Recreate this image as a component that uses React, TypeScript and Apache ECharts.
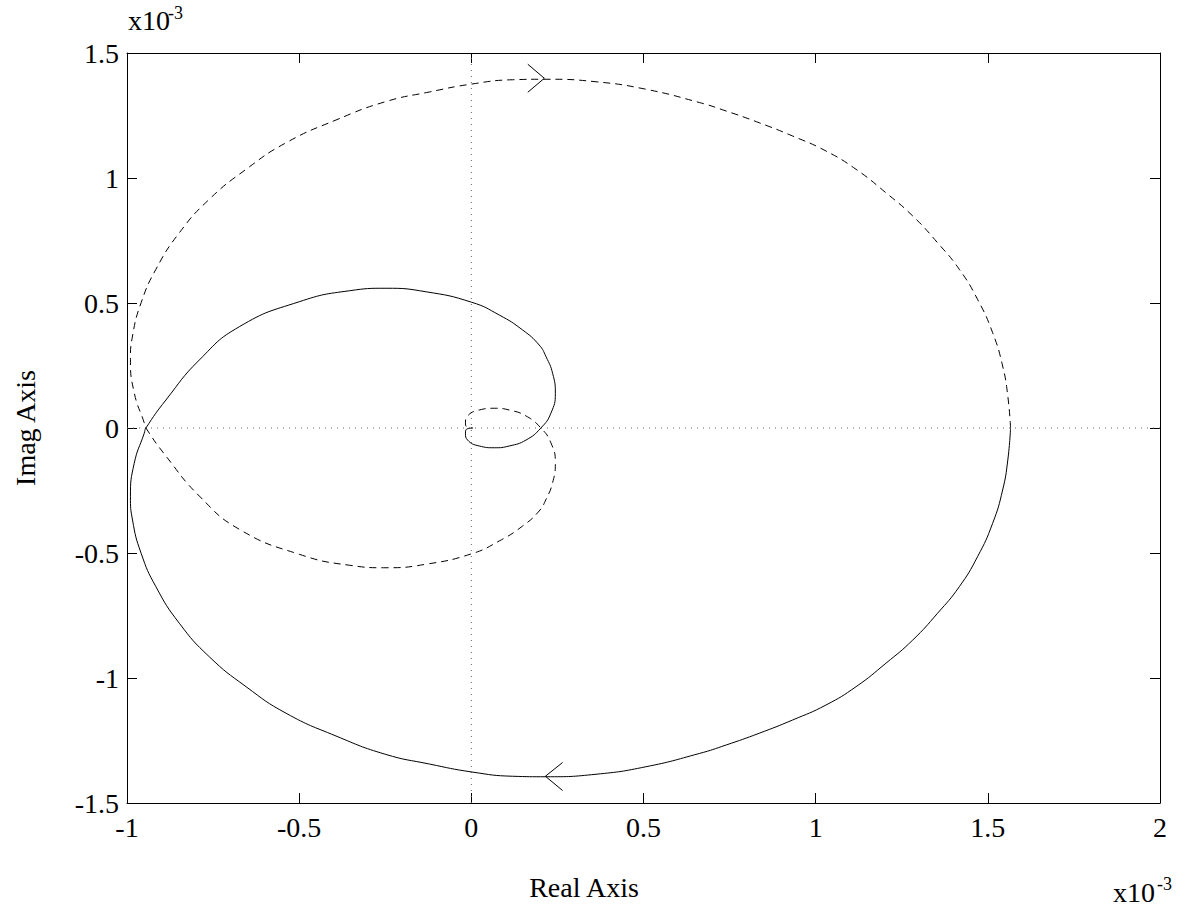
import React, { useEffect, useRef } from "react";
import * as echarts from "echarts";

// Values in units of 1e-3
const xTicks = [-1, -0.5, 0, 0.5, 1, 1.5, 2];
const yTicks = [-1.5, -1, -0.5, 0, 0.5, 1, 1.5];

// Positive-frequency branch (solid)
const solidReal = [1.566, 1.558, 1.543, 1.514, 1.47, 1.417, 1.354, 1.282, 1.204, 1.117, 1.03, 0.933, 0.836, 0.74, 0.662, 0.507, 0.362, 0.217, 0.12, 0.002, -0.122, -0.25, -0.393, -0.538, -0.654, -0.761, -0.848, -0.916, -0.959, -0.984, -0.99, -0.979, -0.95, -0.945, -0.887, -0.79, -0.674, -0.5, -0.354, -0.248, -0.132, 0.001, 0.081, 0.149, 0.197, 0.217, 0.236, 0.244, 0.231, 0.202, 0.159, 0.11, 0.067, 0.023, -0.011, -0.017, -0.014, 0.004];
const solidImag = [0, -0.128, -0.248, -0.381, -0.515, -0.635, -0.741, -0.848, -0.941, -1.035, -1.108, -1.168, -1.221, -1.268, -1.302, -1.355, -1.385, -1.395, -1.393, -1.376, -1.344, -1.305, -1.232, -1.141, -1.035, -0.915, -0.781, -0.635, -0.501, -0.368, -0.275, -0.141, -0.021, 0, 0.112, 0.272, 0.405, 0.505, 0.549, 0.559, 0.545, 0.503, 0.452, 0.392, 0.332, 0.285, 0.219, 0.139, 0.059, 0, -0.048, -0.072, -0.079, -0.072, -0.048, -0.021, -0.005, 0];

// Negative-frequency branch (dashed)
const dashedReal = [1.566, 1.558, 1.543, 1.514, 1.47, 1.417, 1.354, 1.282, 1.204, 1.117, 1.03, 0.933, 0.836, 0.74, 0.662, 0.507, 0.362, 0.217, 0.12, 0.002, -0.122, -0.25, -0.393, -0.538, -0.654, -0.761, -0.848, -0.916, -0.959, -0.984, -0.99, -0.979, -0.95, -0.945, -0.887, -0.79, -0.674, -0.5, -0.354, -0.248, -0.132, 0.001, 0.081, 0.149, 0.197, 0.217, 0.236, 0.244, 0.231, 0.202, 0.159, 0.11, 0.067, 0.023, -0.011, -0.017, -0.014, 0.004];
const dashedImag = [0, 0.128, 0.248, 0.381, 0.515, 0.635, 0.741, 0.848, 0.941, 1.035, 1.108, 1.168, 1.221, 1.268, 1.302, 1.355, 1.385, 1.395, 1.393, 1.376, 1.344, 1.305, 1.232, 1.141, 1.035, 0.915, 0.781, 0.635, 0.501, 0.368, 0.275, 0.141, 0.021, 0, -0.112, -0.272, -0.405, -0.505, -0.549, -0.559, -0.545, -0.503, -0.452, -0.392, -0.332, -0.285, -0.219, -0.139, -0.059, 0, 0.048, 0.072, 0.079, 0.072, 0.048, 0.021, 0.005, 0];

// Direction arrows (arm, tip, arm)
const arrowTopReal = [0.164, 0.212, 0.164];
const arrowTopImag = [1.455, 1.399, 1.343];
const arrowBottomReal = [0.265, 0.215, 0.265];
const arrowBottomImag = [-1.338, -1.393, -1.45];

// Zero reference lines
const hLineReal = [-1, 2];
const hLineImag = [0, 0];
const vLineReal = [0, 0];
const vLineImag = [-1.5, 1.5];

const zip = (a: number[], b: number[]) => a.map((v, i) => [v, b[i]]);

const FONT = "Liberation Serif";

export default function App() {
  const ref = useRef<HTMLDivElement>(null);
  useEffect(() => {
    if (!ref.current) return;
    const chart = echarts.init(ref.current, null, { renderer: "svg" });
    const axisCommon = {
      type: "value" as const,
      axisLine: { show: true, onZero: false, lineStyle: { color: "#000", width: 1 } },
      axisTick: { show: true, inside: true, length: 10, lineStyle: { color: "#000", width: 1 } },
      splitLine: { show: false },
    };
    const lineBase = {
      type: "line" as const,
      showSymbol: false,
      symbol: "none",
      silent: true,
      animation: false,
    };
    chart.setOption({
      animation: false,
      backgroundColor: "#fff",
      grid: { left: 127, right: 29, top: 53, bottom: 106 },
      xAxis: [
        {
          ...axisCommon,
          position: "bottom",
          min: xTicks[0],
          max: xTicks[xTicks.length - 1],
          interval: 0.5,
          axisLabel: { show: true, margin: 10, color: "#000", fontFamily: FONT, fontSize: 28 },
        },
        {
          ...axisCommon,
          position: "top",
          min: xTicks[0],
          max: xTicks[xTicks.length - 1],
          interval: 0.5,
          axisLabel: { show: false },
        },
      ],
      yAxis: [
        {
          ...axisCommon,
          position: "left",
          min: yTicks[0],
          max: yTicks[yTicks.length - 1],
          interval: 0.5,
          axisLabel: { show: true, margin: 8, color: "#000", fontFamily: FONT, fontSize: 28 },
        },
        {
          ...axisCommon,
          position: "right",
          min: yTicks[0],
          max: yTicks[yTicks.length - 1],
          interval: 0.5,
          axisLabel: { show: false },
        },
      ],
      series: [
        { ...lineBase, data: zip(hLineReal, hLineImag), lineStyle: { color: "#666", width: 1, type: [1, 5] } },
        { ...lineBase, data: zip(vLineReal, vLineImag), lineStyle: { color: "#666", width: 1, type: [1, 5] } },
        { ...lineBase, data: zip(solidReal, solidImag), smooth: 0.5, lineStyle: { color: "#000", width: 1 } },
        { ...lineBase, data: zip(dashedReal, dashedImag), smooth: 0.5, lineStyle: { color: "#000", width: 1, type: [7, 5] } },
        { ...lineBase, data: zip(arrowTopReal, arrowTopImag), lineStyle: { color: "#000", width: 1 } },
        { ...lineBase, data: zip(arrowBottomReal, arrowBottomImag), lineStyle: { color: "#000", width: 1 } },
      ],
      graphic: [
        { type: "text", left: 128, top: 6, style: { text: "x10", font: `28px "${FONT}"`, fill: "#000" } },
        { type: "text", left: 168, top: 4, style: { text: "-3", font: `18px "${FONT}"`, fill: "#000" } },
        { type: "text", left: 1113, top: 878, style: { text: "x10", font: `28px "${FONT}"`, fill: "#000" } },
        { type: "text", left: 1157, top: 875, style: { text: "-3", font: `18px "${FONT}"`, fill: "#000" } },
        {
          type: "text",
          x: 584,
          y: 887,
          style: { text: "Real Axis", font: `28px "${FONT}"`, fill: "#000", align: "center", verticalAlign: "middle" },
        },
        {
          type: "text",
          x: 25,
          y: 428,
          rotation: Math.PI / 2,
          style: { text: "Imag Axis", font: `28px "${FONT}"`, fill: "#000", align: "center", verticalAlign: "middle" },
        },
      ],
    });
    return () => chart.dispose();
  }, []);
  return (
    <div
      ref={ref}
      style={{ position: "fixed", left: 0, top: 0, width: 1189, height: 909, background: "#fff" }}
    />
  );
}
